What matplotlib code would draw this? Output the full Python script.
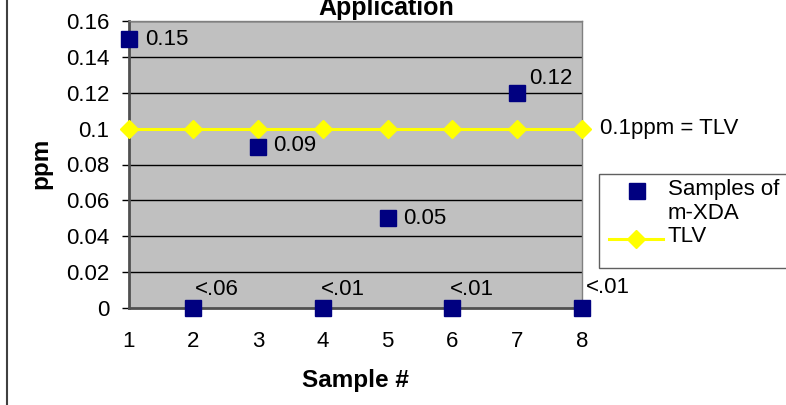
import matplotlib
matplotlib.use("Agg")
import matplotlib.pyplot as plt
from matplotlib.lines import Line2D
from matplotlib.patches import Rectangle

plt.rcParams['font.family'] = ['Liberation Sans', 'DejaVu Sans']

samples = [1, 2, 3, 4, 5, 6, 7, 8]
values = [0.15, 0, 0.09, 0, 0.05, 0, 0.12, 0]
labels = ["0.15", "<.06", "0.09", "<.01", "0.05", "<.01", "0.12", "<.01"]
tlv = [0.1, 0.1, 0.1, 0.1, 0.1, 0.1, 0.1, 0.1]
yticks = [0, 0.02, 0.04, 0.06, 0.08, 0.1, 0.12, 0.14, 0.16]
ytick_labels = ["0", "0.02", "0.04", "0.06", "0.08", "0.1", "0.12", "0.14", "0.16"]

# label offsets in pixels (dx, dy up)
label_offsets = [(16, 0), (1, 18), (15, 1), (-2, 18), (16, 0), (-2, 18), (12, 14), (4, 20)]

FS = 16
W, H = 786, 405
fig = plt.figure(figsize=(7.86, 4.05), dpi=100)
ax = fig.add_axes([128.7/W, 1-307.7/H, (581.7-128.7)/W, (307.7-21.3)/H])
ax.set_facecolor('#c0c0c0')
ax.set_xlim(1, 8)
ax.set_ylim(0, 0.16)

for y in yticks[1:]:
    ax.axhline(y, color='black', lw=1, zorder=1)

ax.plot(samples, tlv, color='#ffff00', lw=2.2, marker='D', ms=9.5, mfc='#ffff00', mec='#ffff00', zorder=3, clip_on=False)
ax.plot(samples, values, ls='none', marker='s', ms=12, color='#000080', zorder=4, clip_on=False)

for x, v, t, (dx, dy) in zip(samples, values, labels, label_offsets):
    ax.annotate(t, (x, v), xytext=(dx*0.72, dy*0.72), textcoords='offset points',
                va='center', ha='left', fontsize=FS, annotation_clip=False)

ax.annotate("0.1ppm = TLV", (8, 0.1), xytext=(18*0.72, 0), textcoords='offset points',
            va='center', ha='left', fontsize=FS, annotation_clip=False)

ax.set_yticks(yticks)
ax.set_yticklabels(ytick_labels, fontsize=FS)
ax.set_xticks(samples)
ax.set_xticklabels([str(s) for s in samples], fontsize=FS)
ax.tick_params(axis='x', length=0, pad=17)
ax.set_xticks([1, 3, 5, 7], minor=True)
ax.tick_params(axis='x', which='minor', length=4, width=1, color='black', direction='out')
ax.tick_params(axis='y', length=5, width=1, color='black', direction='out', pad=9)

for s in ['top', 'right']:
    ax.spines[s].set_color('#808080')
    ax.spines[s].set_linewidth(1)
for s in ['left', 'bottom']:
    ax.spines[s].set_color('#505050')
    ax.spines[s].set_linewidth(2)

fig.text(355/W, 1-380/H, "Sample #", ha='center', va='center', fontsize=17.5, fontweight='bold')
fig.text(41/W, 1-163/H, "ppm", ha='center', va='center', rotation=90, fontsize=17.5, fontweight='bold')
fig.text(386/W, 1-15/H, "Application", ha='center', va='baseline', fontsize=18, fontweight='bold')

fig.add_artist(Line2D([7/W, 7/W], [0, 1], color='#404040', lw=1.5, transform=fig.transFigure))

# legend drawn manually (frame runs off the right edge)
fig.add_artist(Rectangle((599/W, 1-268/H), (830-599)/W, (268-174)/H, transform=fig.transFigure,
                         facecolor='white', edgecolor='#606060', lw=1, clip_on=False))
fig.add_artist(Line2D([637/W], [1-191/H], ls='none', marker='s', ms=12, color='#000080', transform=fig.transFigure))
fig.add_artist(Line2D([609/W, 663/W], [1-239/H, 1-239/H], color='#ffff00', lw=2.2, transform=fig.transFigure))
fig.add_artist(Line2D([636/W], [1-239/H], ls='none', marker='D', ms=9.5, color='#ffff00', transform=fig.transFigure))
fig.text(668/W, 1-189/H, "Samples of", ha='left', va='center', fontsize=FS)
fig.text(668/W, 1-214/H, "m-XDA", ha='left', va='center', fontsize=FS)
fig.text(668/W, 1-236/H, "TLV", ha='left', va='center', fontsize=FS)

fig.savefig("out.png", dpi=100)
